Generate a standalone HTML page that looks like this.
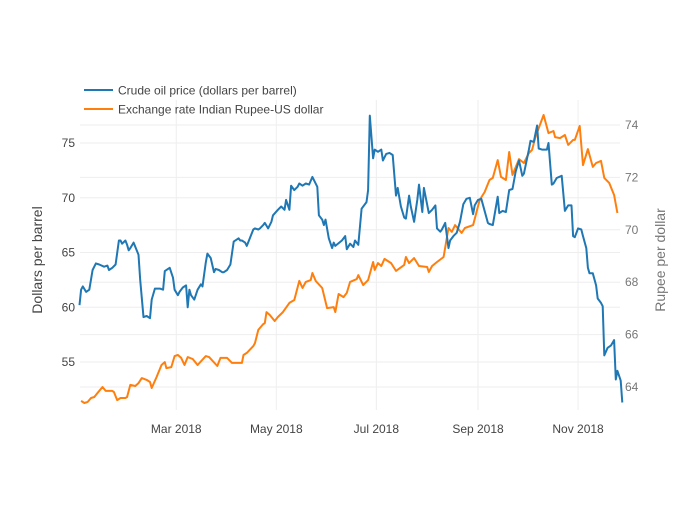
<!DOCTYPE html>
<html><head><meta charset="utf-8"><style>
body{margin:0;background:#fff;font-family:"Liberation Sans",sans-serif}
svg text{font-family:"Liberation Sans",sans-serif}
</style></head><body>
<svg id="chart" width="700" height="500" xmlns="http://www.w3.org/2000/svg">
<rect width="700" height="500" fill="#fff"/>
<g id="grid"></g><g id="series"></g><g id="axes"></g>
<g>
<g><line x1="84" y1="90" x2="113" y2="90" stroke="#1f77b4" stroke-width="2"/><text x="118" y="94.5" font-size="12" fill="#444">Crude oil price (dollars per barrel)</text></g>
<g><line x1="84" y1="109" x2="113" y2="109" stroke="#ff7f0e" stroke-width="2"/><text x="118" y="113.5" font-size="12" fill="#444">Exchange rate Indian Rupee-US dollar</text></g>
</g>
<text transform="translate(42,260) rotate(-90)" text-anchor="middle" font-size="14" fill="#444">Dollars per barrel</text>
<text transform="translate(665,260) rotate(-90)" text-anchor="middle" font-size="14" fill="#777">Rupee per dollar</text>
</svg>
<script>
const crudeDays=[0,1,2,4,6,8,10,12,15,17,18,20,22,24,25,26,28,29,30,31,33,36,37,39,41,43,44,46,48,49,51,52,55,57,58,60,61,63,65,66,67,68,70,72,74,75,77,78,80,82,83,85,87,88,90,92,94,97,98,99,101,102,106,107,109,110,112,113,115,117,118,121,123,125,126,128,129,131,133,134,136,138,140,142,143,145,146,148,149,150,152,154,155,156,160,162,163,165,167,168,170,172,175,176,177,179,180,182,184,185,187,189,191,193,194,196,198,199,201,202,204,206,207,209,210,213,215,217,218,220,221,223,225,226,228,230,232,234,236,238,240,241,243,245,249,250,252,255,256,258,260,262,264,266,268,270,271,274,275,277,279,280,282,285,286,288,289,291,294,296,298,300,301,302,304,306,307,309,310,311,313,315,316,318,319,320,322,324,326,327,328,330,331];
const crudeVals=[60.2,61.6,61.9,61.4,61.6,63.4,64.0,63.9,63.7,63.8,63.4,63.6,63.9,66.1,66.1,65.8,66.1,65.7,65.2,65.4,65.9,64.8,62.5,59.1,59.2,59.0,60.7,61.7,61.7,61.7,61.6,63.3,63.6,62.7,61.6,61.1,61.4,61.8,62.0,60.0,61.6,61.1,60.7,61.6,62.1,61.9,64.1,64.9,64.5,63.2,63.5,63.4,63.2,63.2,63.4,63.9,66.0,66.3,66.1,66.1,65.9,65.6,67.1,67.2,67.1,67.2,67.5,67.7,67.2,67.8,68.4,68.9,69.2,68.9,69.8,68.9,71.1,70.7,71.0,71.3,71.1,71.3,71.2,71.9,71.6,71.0,68.4,68.0,67.5,68.0,66.3,65.4,65.9,65.6,66.1,66.5,65.3,65.8,65.5,66.1,65.7,69.0,69.6,70.7,77.5,73.6,74.4,74.2,74.4,73.4,74.0,74.1,73.9,70.2,70.9,69.2,68.2,68.1,70.2,69.2,67.8,69.8,71.2,68.7,70.9,68.6,68.9,69.3,67.2,66.9,67.1,67.7,65.4,66.1,66.5,66.8,67.8,69.4,69.9,70.0,68.5,69.3,69.8,69.9,67.7,67.6,67.5,70.1,68.6,68.8,68.7,70.7,70.8,72.4,73.4,72.0,72.2,74.4,75.2,75.1,76.6,74.5,74.4,74.4,75.0,71.2,71.3,71.8,72.0,68.8,69.3,69.3,66.5,66.4,67.2,67.1,66.5,65.4,63.6,63.1,63.1,62.0,60.8,60.4,60.1,55.6,56.3,56.5,57.0,53.4,54.2,53.3,51.3];
const rupeeDays=[1,3,5,7,9,11,14,16,20,21,23,25,28,29,31,34,36,38,41,43,44,47,50,52,53,56,58,60,62,64,66,69,72,77,79,84,86,90,93,99,100,102,106,107,109,112,113,114,116,119,121,124,128,131,134,136,138,141,142,144,148,151,155,156,158,161,163,165,169,170,173,176,179,180,182,184,186,190,193,198,199,201,204,207,212,213,215,218,222,225,227,229,233,235,240,244,247,250,252,255,257,260,262,264,268,271,274,276,278,283,286,289,290,293,296,298,301,302,305,307,310,313,315,318,320,323,326,328];
const rupeeVals=[63.47,63.39,63.43,63.58,63.62,63.77,64.00,63.85,63.85,63.81,63.50,63.58,63.58,63.62,64.08,64.04,64.15,64.34,64.27,64.19,63.96,64.38,64.84,64.95,64.72,64.76,65.18,65.22,65.11,64.84,65.14,65.07,64.84,65.18,65.14,64.80,65.11,65.11,64.92,64.92,65.22,65.30,65.56,65.68,66.18,66.40,66.44,66.86,66.75,66.52,66.67,66.86,67.21,67.32,68.05,67.78,68.01,68.08,68.35,68.05,67.78,67.01,67.05,66.86,67.55,67.43,67.59,68.01,68.12,68.27,67.89,68.08,68.77,68.47,68.73,68.62,68.89,68.73,68.43,68.66,68.96,68.73,68.92,68.62,68.58,68.39,68.62,68.77,68.96,70.07,69.92,70.18,69.88,70.07,70.18,71.14,71.44,71.90,71.98,72.66,72.02,71.90,72.97,72.09,72.70,72.55,72.93,73.05,73.54,74.38,73.69,73.77,73.54,73.50,73.62,73.24,73.43,73.43,73.96,72.47,73.08,72.40,72.55,72.63,71.98,71.79,71.33,70.64];
const xTickDays=[59,120,181,243,304];
const xTickLabels=["Mar 2018","May 2018","Jul 2018","Sep 2018","Nov 2018"];
const leftTicks=[55,60,65,70,75];
const rightTicks=[64,66,68,70,72,74];

const NS="http://www.w3.org/2000/svg";
const X0=80,X1=620,Y0=100,Y1=410;
function xs(d){return 79.5+d*1.64;}
function yl(v){return 143+(75-v)*10.95;}
function yr(v){return 125+(74-v)*26.2;}
function mk(tag,attrs,parent){const e=document.createElementNS(NS,tag);for(const k in attrs)e.setAttribute(k,attrs[k]);parent.appendChild(e);return e;}
const grid=document.getElementById('grid'),axes=document.getElementById('axes'),series=document.getElementById('series');
xTickDays.forEach((d,i)=>{
  const l=mk('line',{x1:xs(d),x2:xs(d),y1:Y0,y2:Y1,stroke:'#eee','stroke-width':1},grid);
  
  
  const t=mk('text',{x:xs(d),y:433,'text-anchor':'middle','font-size':12,fill:'#444'},axes);
  t.textContent=xTickLabels[i];
  
  
});
leftTicks.forEach(v=>{
  const l=mk('line',{x1:X0,x2:X1,y1:yl(v),y2:yl(v),stroke:'#eee','stroke-width':1},grid);
  
  
  const t=mk('text',{x:75,y:yl(v)+4,'text-anchor':'end','font-size':12,fill:'#444'},axes);
  t.textContent=v;
  
  
});
rightTicks.forEach(v=>{
  const l=mk('line',{x1:X0,x2:X1,y1:yr(v),y2:yr(v),stroke:'#eee','stroke-width':1},grid);
  
  
  const t=mk('text',{x:625,y:yr(v)+4,'text-anchor':'start','font-size':12,fill:'#777'},axes);
  t.textContent=v;
  
  
});
function line(days,vals,yf,color,name){
  const p=mk('path',{d:days.map((d,i)=>(i?'L':'M')+xs(d).toFixed(1)+','+yf(vals[i]).toFixed(1)).join(''),fill:'none',stroke:color,'stroke-width':2,'stroke-linejoin':'round'},series);
  
  
}
line(rupeeDays,rupeeVals,yr,'#ff7f0e','rupee-line');
line(crudeDays,crudeVals,yl,'#1f77b4','crude-oil-line');
</script>
</body></html>
